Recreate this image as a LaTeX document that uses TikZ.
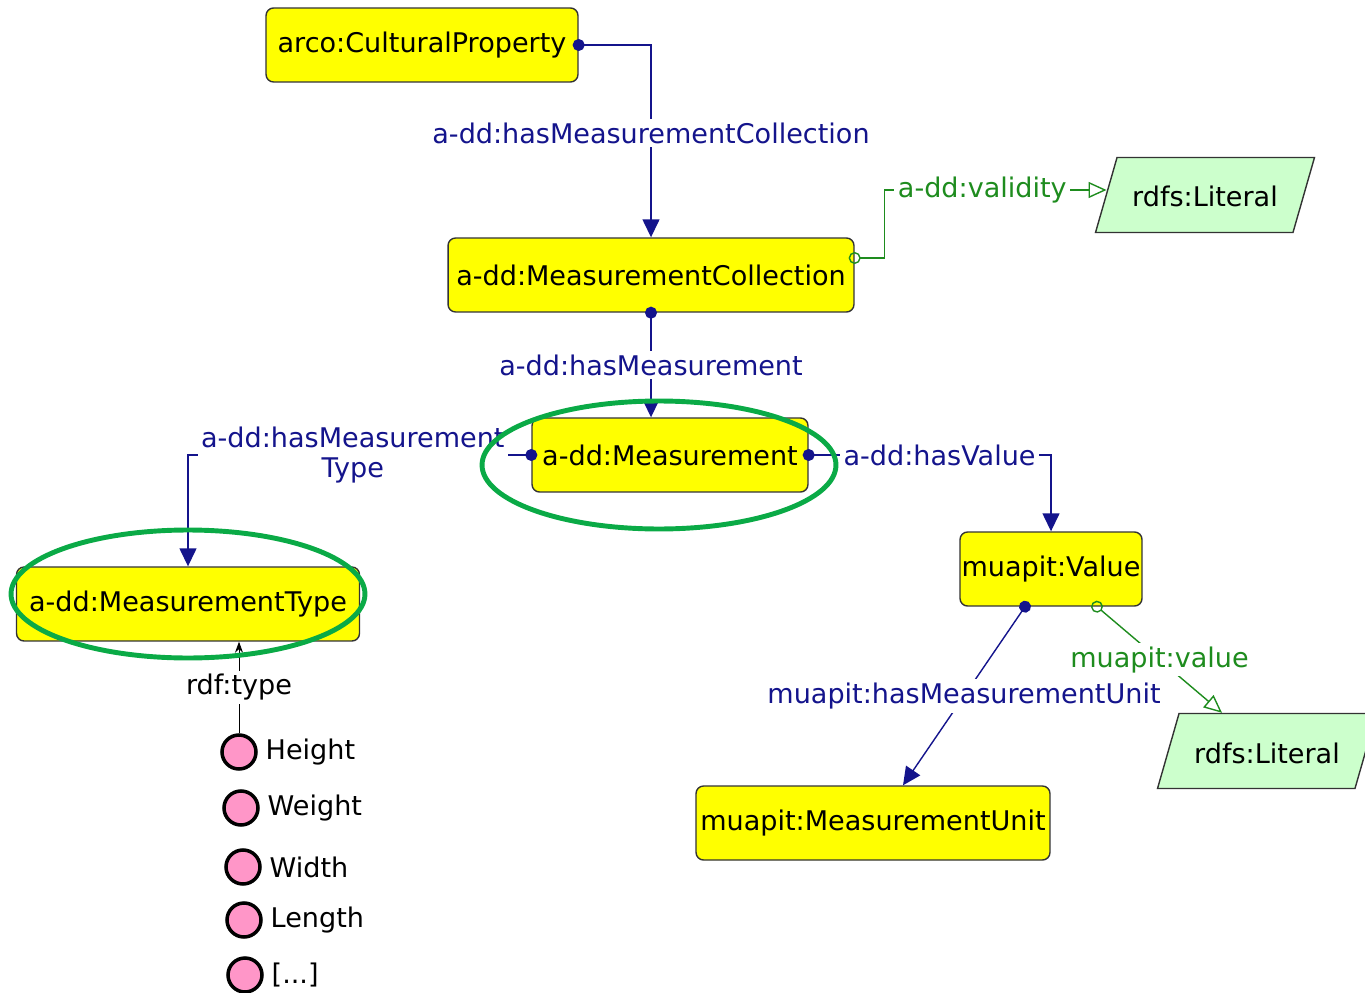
\documentclass[tikz,border=0pt]{standalone}
\usepackage{fontspec}
\setmainfont{DejaVu Sans}
\usetikzlibrary{arrows.meta,shapes.geometric,calc}

\definecolor{clsyellow}{RGB}{255,255,0}
\definecolor{litgreen}{RGB}{204,255,204}
\definecolor{objblue}{RGB}{20,20,140}
\definecolor{datagreen}{RGB}{30,140,30}
\definecolor{indpink}{RGB}{255,150,200}
\definecolor{markgreen}{RGB}{10,170,70}

\newcommand{\diagfont}{\fontsize{15.4}{17.6}\selectfont}

\tikzset{
  cls/.style={draw=black!80, fill=clsyellow, rounded corners=0.15cm, line width=0.8pt,
    minimum height=1.48cm, inner sep=0pt, font=\diagfont},
  lit/.style={draw=black!80, fill=litgreen, line width=0.8pt, trapezium,
    trapezium left angle=74, trapezium right angle=106, trapezium stretches body,
    text height=0.48cm, text depth=0cm, inner xsep=0pt, inner ysep=0.51cm,
    minimum width=4.38cm, font=\diagfont},
  ind/.style={circle, draw=black, fill=indpink, line width=2pt,
    minimum size=0.68cm, inner sep=0pt},
  indlab/.style={font=\diagfont, label distance=1pt},
  objprop/.style={draw=objblue, line width=0.8pt, shorten <=-0.12cm,
    {Circle[length=0.24cm]}-{Triangle[length=0.36cm,width=0.34cm]}},
  dataprop/.style={draw=datagreen, line width=0.8pt, shorten <=-0.12cm,
    {Circle[open,length=0.24cm]}-{Triangle[open,length=0.36cm,width=0.32cm]}},
  plab/.style={fill=white, text=objblue, inner sep=2pt, font=\diagfont},
  dlab/.style={fill=white, text=datagreen, inner sep=2pt, font=\diagfont},
  hilite/.style={draw=markgreen, line width=2.8pt},
}

\begin{document}
\begin{tikzpicture}[x=0.02cm, y=-0.02cm]
  \useasboundingbox (0,0) rectangle (1365,993);

  % classes
  \node[cls, minimum width=6.24cm] (cp) at (422,45) {arco:CulturalProperty};
  \node[cls, minimum width=8.12cm] (mc) at (651,275) {a-dd:MeasurementCollection};
  \node[cls, minimum width=5.52cm] (m) at (670,455) {a-dd:Measurement};
  \node[cls, minimum width=6.86cm] (mt) at (188,604) {a-dd:MeasurementType};
  \node[cls, minimum width=3.64cm] (val) at (1051,569) {muapit:Value};
  \node[cls, minimum width=7.08cm] (mu) at (873,823) {muapit:MeasurementUnit};

  % literals
  \node[lit] (lit1) at (1205,195) {rdfs:Literal};
  \node[lit] (lit2) at (1267,751) {rdfs:Literal};

  % individuals
  \node[ind, label={[indlab]right:Height}] (height) at (239,752) {};
  \node[ind, label={[indlab]right:Weight}] (weight) at (241,808) {};
  \node[ind, label={[indlab]right:Width}] (width) at (243,867) {};
  \node[ind, label={[indlab]right:Length}] (length) at (244,920) {};
  \node[ind, label={[indlab]right:[...]}] (more) at (245,975) {};

  % object properties
  \draw[objprop] (cp.east) -| (mc.north)
    node[plab, pos=0.73] {a-dd:hasMeasurementCollection};
  \draw[objprop] (mc.south) -- (mc.south |- m.north)
    node[plab, midway] {a-dd:hasMeasurement};
  \draw[objprop] (m.west) -| (mt.north)
    node[plab, pos=0.26, align=center] {a-dd:hasMeasurement\\Type};
  \draw[objprop] (m.east) -| (val.north)
    node[plab, pos=0.27] {a-dd:hasValue};
  \draw[objprop] ($(val.south)+(-26,0)$) -- ($(mu.north)+(30,0)$)
    node[plab, midway] {muapit:hasMeasurementUnit};

  % datatype properties
  \draw[dataprop] ($(mc.east)+(0,-17)$) -- ++(30,0) |- ($(lit1.west)+(1,-5)$)
    node[dlab, pos=0.72] {a-dd:validity};
  \draw[dataprop] ($(val.south)+(46,0)$) -- ($(lit2.north)+(-45,0)$)
    node[dlab, midway] {muapit:value};

  % rdf:type
  \draw[-{Stealth[length=0.22cm,width=0.16cm]}, line width=0.5pt] (height.north) -- (height.north |- mt.south)
    node[midway, fill=white, inner sep=2pt, font=\diagfont] {rdf:type};

  % highlights
  \draw[hilite] ($(m)+(-11,10)$) ellipse [x radius=3.54cm, y radius=1.28cm];
  \draw[hilite] ($(mt)+(0,-10)$) ellipse [x radius=3.54cm, y radius=1.28cm];
\end{tikzpicture}
\end{document}
